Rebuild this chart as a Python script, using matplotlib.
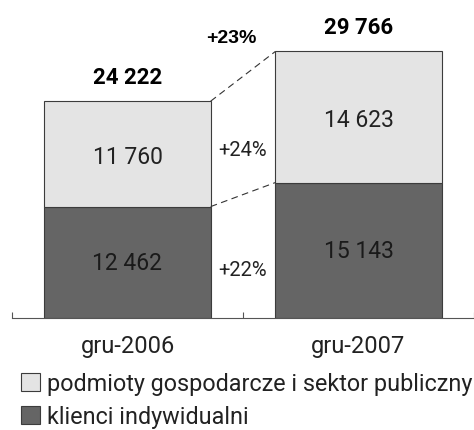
import matplotlib.pyplot as plt
import matplotlib.patches as mpatches
import numpy as np

categories = ['gru-2006', 'gru-2007']
klienci = [12462, 15143]
podmioty = [11760, 14623]
totals = [24222, 29766]
total_labels = ['24 222', '29 766']
klienci_labels = ['12 462', '15 143']
podmioty_labels = ['11 760', '14 623']
growth_total = '+23%'
growth_podmioty = '+24%'
growth_klienci = '+22%'

plt.rcParams['font.family'] = ['Roboto', 'DejaVu Sans']

fig = plt.figure(figsize=(4.74, 4.31), dpi=100)
ax = fig.add_axes([12 / 474, 1 - 319.3 / 431, 1 - 12 / 474, 319.3 / 431])

x = np.arange(len(categories))
width = 0.72
dark = '#656565'
light = '#e4e4e4'
edge = '#3c3c3c'
txt = '#222222'

ax.bar(x, klienci, width, color=dark, edgecolor=edge, linewidth=0.8)
ax.bar(x, podmioty, width, bottom=klienci, color=light, edgecolor=edge, linewidth=0.8)

for i in range(len(categories)):
    ax.text(x[i], klienci[i] / 2, klienci_labels[i], ha='center', va='center',
            fontsize=16.5, color='#1a1a1a')
    ax.text(x[i], klienci[i] + podmioty[i] / 2 - 300, podmioty_labels[i], ha='center',
            va='center', fontsize=16.5, color=txt)
    ax.text(x[i], totals[i] + 2700, total_labels[i], ha='center', va='center',
            fontsize=16, fontweight='bold', color='black')

# connectors between bars
ax.plot([x[0] + width / 2, x[1] - width / 2], [totals[0], totals[1]],
        ls=(0, (6, 4)), color='#333333', lw=0.8)
ax.plot([x[0] + width / 2, x[1] - width / 2], [klienci[0], klienci[1]],
        ls=(0, (6, 4)), color='#333333', lw=0.8)

ax.text(0.451, 31270, growth_total, ha='center', va='center', fontsize=14,
        fontweight='bold', family=['Liberation Sans', 'DejaVu Sans'])
ax.text(0.5, 18800, growth_podmioty, ha='center', va='center', fontsize=14.5, color=txt)
ax.text(0.5, 5390, growth_klienci, ha='center', va='center', fontsize=14.5, color=txt)

ax.set_xlim(-0.5, 1.5)
ax.set_ylim(0, 35620)
for s in ['top', 'right', 'left']:
    ax.spines[s].set_visible(False)
ax.spines['bottom'].set_color('#555555')
ax.set_yticks([])
ax.set_xticks([-0.5, 0.5, 1.5])
ax.set_xticklabels([])
ax.tick_params(axis='x', which='major', direction='in', length=4.5, color='#555555')
ax.set_xticks(x, minor=True)
ax.set_xticklabels(categories, minor=True, fontsize=17, color=txt)
ax.tick_params(axis='x', which='minor', length=0, pad=11)

handles = [mpatches.Patch(facecolor=light, edgecolor=edge, linewidth=0.8),
           mpatches.Patch(facecolor=dark, edgecolor=edge, linewidth=0.8)]
leg = fig.legend(handles, ['podmioty gospodarcze i sektor publiczny', 'klienci indywidualni'],
                 loc='upper left', bbox_to_anchor=(21 / 474, 1 - 373 / 431), frameon=False,
                 borderpad=0, borderaxespad=0, handlelength=0.8, handleheight=0.8,
                 handletextpad=0.3, labelspacing=0.45, fontsize=16.8,
                 labelcolor=txt)

fig.savefig('out.png', dpi=100)
